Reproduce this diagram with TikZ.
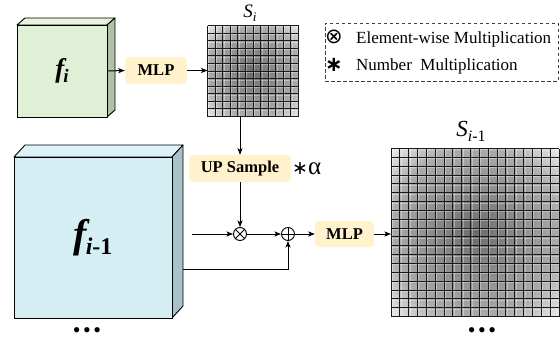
\documentclass[tikz,border=0pt]{standalone}
\usepackage{fontspec}
\setmainfont{Liberation Serif}
\newfontfamily\dejavu{DejaVu Sans}
\usetikzlibrary{arrows.meta,calc}
\definecolor{pillc}{HTML}{FFF2CC}
\definecolor{gfront}{HTML}{E0F0D6}
\definecolor{gtop}{HTML}{E8F4E0}
\definecolor{gside}{HTML}{AFC3A3}
\definecolor{cfront}{HTML}{D5EEF4}
\definecolor{ctop}{HTML}{DDF2F7}
\definecolor{cside}{HTML}{A8C2C7}
\pgfdeclareradialshading{heat}{\pgfpoint{0bp}{0bp}}{color(0bp)=(black!58); color(25bp)=(black!33); color(36bp)=(black!6); color(50bp)=(black!6)}
\newcommand\fsz[1]{\fontsize{#1}{#1}\selectfont}
\newcommand\heatgrid[4]{%
  \pgfmathsetmacro\hgstep{#3/#4}%
  \shade[shading=heat] (#1,#2) rectangle ++(#3,#3);
  \foreach \k in {1,...,#4}{%
    \draw[white,opacity=0.35,line width=0.9pt] ({#1+(\k-1)*\hgstep+1.4},#2) -- ++(0,#3);
    \draw[white,opacity=0.35,line width=0.9pt] (#1,{#2+(\k-1)*\hgstep+1.4}) -- ++(#3,0);
  }
  \foreach \k in {0,...,#4}{%
    \draw[black!90,line width=0.95pt] ({#1+\k*\hgstep},#2) -- ++(0,#3);
    \draw[black!90,line width=0.95pt] (#1,{#2+\k*\hgstep}) -- ++(#3,0);
  }
}
\begin{document}
\begin{tikzpicture}[x=1pt,y=-1pt,
  arr/.style={-{Stealth[length=6.5pt,width=5pt,inset=1.5pt]}, line width=1pt},
  pill/.style={fill=pillc, rounded corners=4pt, inner sep=0pt, font=\fsz{16.5}\bfseries},
  face/.style={draw, line width=0.9pt, line join=round},
  opnode/.style={circle, draw, line width=0.9pt, minimum size=13pt, inner sep=0pt, fill=white},
  lgtext/.style={anchor=base west, inner sep=0pt, font=\fsz{17}},
  gridnode/.style={minimum size=#1, inner sep=0pt, outer sep=0pt},
  dotrow/.style={anchor=base, inner sep=0pt, font=\fsz{22}},
]
\useasboundingbox (0,0) rectangle (560,343);

% f_i block
\draw[face, fill=gtop] (17,25) -- (25,18) -- (115,18) -- (107,25) -- cycle;
\draw[face, fill=gside] (107,25) -- (115,18) -- (115,110) -- (107,117) -- cycle;
\node[face, fill=gfront, minimum width=90pt, minimum height=92pt, inner sep=0pt] (fi) at (62,71)
  {\fsz{27}\bfseries\itshape f\kern-1pt\raisebox{-5pt}{\fsz{19}i}};

% f_{i-1} block
\draw[face, fill=ctop] (14,157) -- (25,145) -- (183,145) -- (172,157) -- cycle;
\draw[face, fill=cside] (172,157) -- (183,145) -- (183,306) -- (172,318) -- cycle;
\node[face, fill=cfront, minimum width=158pt, minimum height=161pt, inner sep=0pt] (fim) at (93,237.5)
  {\fsz{40}\bfseries\itshape f\kern-1pt\raisebox{-7pt}{\fsz{24}i\upshape -1}};

% pills
\node[pill, minimum width=62pt, minimum height=27pt] (mlpa) at (156,70.5) {MLP};
\node[pill, minimum width=102pt, minimum height=27pt] (up) at (240,168.5) {UP Sample};
\node[pill, minimum width=59pt, minimum height=26pt] (mlpb) at (344.5,234) {MLP};
\node[anchor=west, inner sep=0pt] (alpha) at (292,169) {{\fsz{19}\dejavu ∗}{\fsz{25}α}};

% grids
\heatgrid{207.5}{25.5}{91}{12}
\node[gridnode=91pt] (si) at (253,71) {};
\heatgrid{391}{148.5}{168}{19}
\node[gridnode=168pt] (sim) at (475,232.5) {};
\node (silab) at (250,13) {\fsz{19}\itshape S\raisebox{-4pt}{\fsz{13}i}};
\node (simlab) at (471,131) {\fsz{23}\itshape S\raisebox{-5pt}{\fsz{16}i\upshape -1}};

% operators
\node[opnode] (ot) at (240,234) {};
\draw[line width=0.8pt] (ot.north west) -- (ot.south east) (ot.north east) -- (ot.south west);
\node[opnode] (op) at (288,234) {};
\draw[line width=0.8pt] (op.north) -- (op.south) (op.west) -- (op.east);

% connectors
\draw[arr] (fi.east) -- (mlpa.west);
\draw[arr] (mlpa.east) -- (mlpa.east -| si.west);
\draw[arr] (si.south -| up.north) -- (up.north);
\draw[arr] (up.south) -- (ot.north);
\coordinate (inL) at (192,234);
\draw[arr] (inL) -- (ot.west);
\draw[arr] (ot.east) -- (op.west);
\coordinate (fside) at (183,269);
\draw[arr] (fside) -| (op.south);
\draw[arr] (op.east) -- (mlpb.west);
\draw[arr] (mlpb.east) -- (mlpb.east -| sim.west);

% legend
\node[draw=black!75, dash pattern=on 3.5pt off 2.5pt, line width=0.9pt, minimum width=233pt, minimum height=58pt, inner sep=0pt] (leg) at (441.5,52) {};
\node[inner sep=0pt] (lg1s) at (334,37) {\fsz{21}\dejavu ⊗};
\node[lgtext] (lg1) at (356,43) {Element-wise Multiplication};
\node[inner sep=0pt] (lg2s) at (334,65) {\fsz{21}\dejavu\bfseries ∗};
\node[lgtext] (lg2) at (356,70) {Number\ \ Multiplication};

% dots
\node[dotrow] (dl) at (87,337.5) {•\hspace{2.5pt}•\hspace{2.5pt}•};
\node[dotrow] (dr) at (482,337.5) {•\hspace{2.5pt}•\hspace{2.5pt}•};
\end{tikzpicture}
\end{document}
